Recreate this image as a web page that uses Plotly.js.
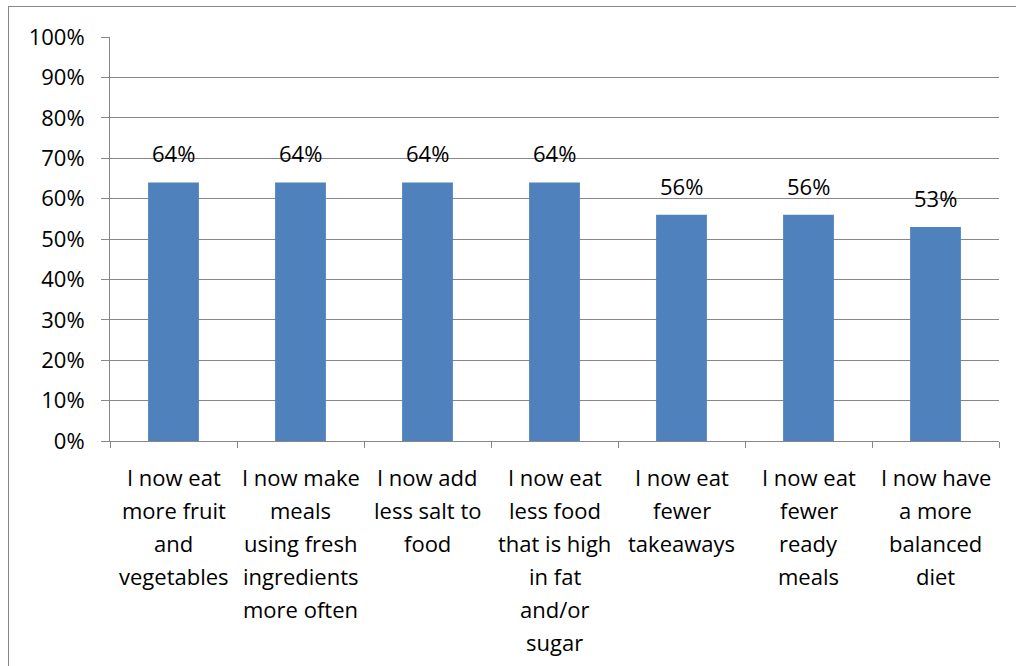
<!DOCTYPE html>
<html>
<head>
<meta charset="utf-8">
<script src="https://cdn.plot.ly/plotly-3.0.1.min.js"></script>
<style>
  html, body { margin: 0; padding: 0; background: #fff; overflow: hidden; }
  #wrap { position: relative; width: 1016px; height: 666px; }
  #frame { position: absolute; left: 8px; top: 6px; width: 1100px; height: 700px; border: 1px solid #878787; box-sizing: border-box; pointer-events: none; z-index: 2; }
  #chart { position: absolute; left: 0; top: 0; width: 1016px; height: 666px; }
</style>
</head>
<body>
<div id="wrap"><div id="chart"></div><div id="frame"></div></div>
<script>
const categories = [
  "I now eat<br>more fruit<br>and<br>vegetables",
  "I now make<br>meals<br>using fresh<br>ingredients<br>more often",
  "I now add<br>less salt to<br>food",
  "I now eat<br>less food<br>that is high<br>in fat<br>and/or<br>sugar",
  "I now eat<br>fewer<br>takeaways",
  "I now eat<br>fewer<br>ready<br>meals",
  "I now have<br>a more<br>balanced<br>diet"
];
const values = [0.64, 0.64, 0.64, 0.64, 0.56, 0.56, 0.53];
const valueLabels = ["64%", "64%", "64%", "64%", "56%", "56%", "53%"];
const yTickVals = [0, 0.1, 0.2, 0.3, 0.4, 0.5, 0.6, 0.7, 0.8, 0.9, 1.0];
const yTickText = ["0%", "10%", "20%", "30%", "40%", "50%", "60%", "70%", "80%", "90%", "100%"];

const FONT = "'Open Sans', 'Noto Sans', sans-serif";
const FS = 22;
const LINE = 33;

const annotations = [];
categories.forEach((c, i) => {
  annotations.push({
    x: c, y: values[i], xref: 'x', yref: 'y',
    text: valueLabels[i], showarrow: false,
    xanchor: 'center', yanchor: 'bottom', yshift: 12,
    font: {family: FONT, size: FS, color: '#000'}
  });
  c.split('<br>').forEach((line, j) => {
    annotations.push({
      x: c, y: 0, xref: 'x', yref: 'y',
      text: line, showarrow: false,
      xanchor: 'center', yanchor: 'top', yshift: -19 - LINE * j,
      font: {family: FONT, size: FS, color: '#000'}
    });
  });
});

const trace = {
  type: 'bar',
  x: categories,
  y: values,
  marker: {color: '#4F81BD'},
  hoverinfo: 'none'
};

const layout = {
  width: 1016, height: 666,
  margin: {l: 110, r: 17, t: 37, b: 225, pad: 0},
  paper_bgcolor: '#fff', plot_bgcolor: '#fff',
  showlegend: false,
  bargap: 0.6,
  font: {family: FONT, size: FS, color: '#000'},
  xaxis: {
    type: 'category',
    showticklabels: false,
    showgrid: false,
    showline: true, linecolor: '#878787', linewidth: 1,
    ticks: 'outside', tickson: 'boundaries', ticklen: 6, tickcolor: '#878787', tickwidth: 1,
    zeroline: false, fixedrange: true
  },
  yaxis: {
    range: [0, 1],
    tickvals: yTickVals, ticktext: yTickText,
    showgrid: true, gridcolor: '#878787', gridwidth: 1,
    showline: true, linecolor: '#878787', linewidth: 1,
    ticks: 'outside', ticklen: 8, tickcolor: '#878787', tickwidth: 1,
    ticklabelstandoff: 12,
    zeroline: false, fixedrange: true,
    tickfont: {family: FONT, size: FS, color: '#000'}
  },
  annotations: annotations
};

Plotly.newPlot('chart', [trace], layout, {displayModeBar: false, staticPlot: true});
</script>
</body>
</html>
